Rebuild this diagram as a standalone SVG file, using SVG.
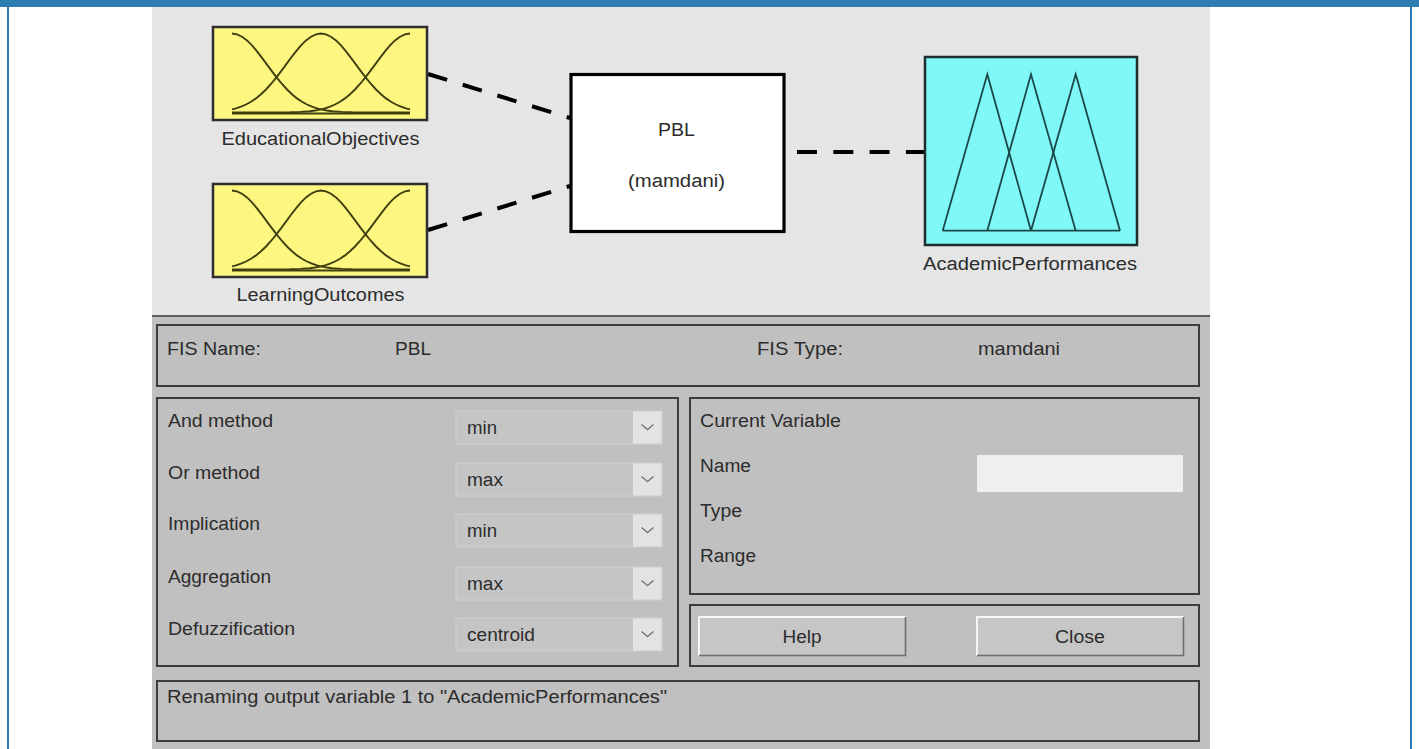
<svg xmlns="http://www.w3.org/2000/svg" xmlns:xlink="http://www.w3.org/1999/xlink" width="1419" height="749" viewBox="0 0 1419 749">
<style>
.t{font-family:"Liberation Sans",Arial,sans-serif;font-size:18px;fill:#2c2c2c}
.m{text-anchor:middle}
.panel{fill:none;stroke:#3c3c3c;stroke-width:2}
.conn{fill:none;stroke:#000;stroke-width:4;stroke-dasharray:20 16.3}
.mf{fill:none;stroke:#3f3f10;stroke-width:1.9}
.tri{fill:none;stroke:#1c4848;stroke-width:1.8}
.ybox{fill:#fdf680;stroke:#2e2e2e;stroke-width:2.5}
.btn{fill:#c6c6c6}
.hl{fill:none;stroke:#f6f6f6;stroke-width:2}
.sh{fill:none;stroke:#6e6e6e;stroke-width:1.6}
</style>
<defs>
<g id="gauss">
<polyline class="mf" points="0,0 5,0.8 10,3.2 15,6.9 20,11.9 25,17.8 30,24.3 35,31.1 40,37.9 45,44.4 50,50.5 55,56 60,60.8 65,64.9 70,68.3 75,71 80,73.2 85,74.9 90,76.1 95,77 100,77.7 110,78.4 120,78.8 140,79 178,79"/>
<polyline class="mf" points="178,0 173,0.8 168,3.2 163,6.9 158,11.9 153,17.8 148,24.3 143,31.1 138,37.9 133,44.4 128,50.5 123,56 118,60.8 113,64.9 108,68.3 103,71 98,73.2 93,74.9 88,76.1 83,77 78,77.7 68,78.4 58,78.8 38,79 0,79"/>
<polyline class="mf" points="0,75.9 4,74.9 9,73.2 14,71 19,68.3 24,64.9 29,60.8 34,56 39,50.5 44,44.4 49,37.9 54,31.1 59,24.3 64,17.8 69,11.9 74,6.9 79,3.2 84,0.8 89,0 94,0.8 99,3.2 104,6.9 109,11.9 114,17.8 119,24.3 124,31.1 129,37.9 134,44.4 139,50.5 144,56 149,60.8 154,64.9 159,68.3 164,71 169,73.2 174,74.9 178,75.9"/>
<line class="mf" x1="0" y1="80" x2="178" y2="80"/>
</g>
<g id="dd">
<rect x="0" y="0" width="206" height="33" fill="#c5c5c5" stroke="#d0d0d0" stroke-width="1"/>
<rect x="177" y="0.5" width="28.5" height="32" fill="#e3e3e3"/>
<polyline points="185.5,13.5 191.5,18.5 197.5,13.5" fill="none" stroke="#767676" stroke-width="1.4"/>
</g>
</defs>

<!-- frame -->
<rect x="0" y="0" width="1419" height="749" fill="#ffffff"/>
<rect x="0" y="0" width="1419" height="7" fill="#2e7db1"/>
<rect x="7" y="7" width="2" height="742" fill="#2e7db1"/>
<rect x="1410" y="7" width="2" height="742" fill="#2e7db1"/>

<!-- window -->
<rect x="152" y="7" width="1058" height="309" fill="#e5e5e5"/>
<rect x="152" y="316" width="1058" height="433" fill="#c0c0c0"/>
<line x1="152" y1="316" x2="1210" y2="316" stroke="#5e5e5e" stroke-width="2"/>

<g id="connectors">
<line class="conn" x1="428" y1="74" x2="570" y2="118"/>
<line class="conn" x1="428" y1="230" x2="570" y2="186"/>
<line class="conn" x1="797" y1="152" x2="926" y2="152"/>
</g>

<g id="node-educational">
<rect class="ybox" x="213" y="27" width="214" height="93"/>
<use xlink:href="#gauss" transform="translate(232,33.5)"/>
<text class="t m" x="320.5" y="145" textLength="198" lengthAdjust="spacingAndGlyphs">EducationalObjectives</text>
</g>

<g id="node-learning">
<rect class="ybox" x="213" y="184" width="214" height="93"/>
<use xlink:href="#gauss" transform="translate(232,190.5)"/>
<text class="t m" x="320.5" y="301" textLength="168" lengthAdjust="spacingAndGlyphs">LearningOutcomes</text>
</g>

<g id="node-pbl">
<rect x="571" y="74.5" width="213" height="157" fill="#ffffff" stroke="#000" stroke-width="3.2"/>
<text class="t m" x="676.5" y="136" textLength="37" lengthAdjust="spacingAndGlyphs">PBL</text>
<text class="t m" x="676.5" y="187" textLength="97" lengthAdjust="spacingAndGlyphs">(mamdani)</text>
</g>

<g id="node-academic">
<rect x="925" y="57" width="212" height="188" fill="#80f8f8" stroke="#1e2e2e" stroke-width="2.5"/>
<polyline class="tri" points="942.7,230.7 987.3,74.3 1031,230.7"/>
<polyline class="tri" points="987.3,230.7 1031,74.3 1075.7,230.7"/>
<polyline class="tri" points="1031,230.7 1075.7,74.3 1120,230.7"/>
<line class="tri" x1="942.7" y1="230.7" x2="1120" y2="230.7"/>
<text class="t m" x="1030" y="270" textLength="214" lengthAdjust="spacingAndGlyphs">AcademicPerformances</text>
</g>

<g id="fis-panel">
<rect class="panel" x="157" y="325" width="1042" height="61"/>
<text class="t" x="167" y="355" textLength="94" lengthAdjust="spacingAndGlyphs">FIS Name:</text>
<text class="t" x="395" y="355" textLength="36" lengthAdjust="spacingAndGlyphs">PBL</text>
<text class="t" x="757" y="355" textLength="86" lengthAdjust="spacingAndGlyphs">FIS Type:</text>
<text class="t" x="978" y="355" textLength="82" lengthAdjust="spacingAndGlyphs">mamdani</text>
</g>

<g id="methods-panel">
<rect class="panel" x="157" y="398" width="521" height="268"/>
<text class="t" x="168" y="427" textLength="105" lengthAdjust="spacingAndGlyphs">And method</text>
<text class="t" x="168" y="479" textLength="92" lengthAdjust="spacingAndGlyphs">Or method</text>
<text class="t" x="168" y="530" textLength="92" lengthAdjust="spacingAndGlyphs">Implication</text>
<text class="t" x="168" y="583" textLength="103" lengthAdjust="spacingAndGlyphs">Aggregation</text>
<text class="t" x="168" y="635" textLength="127" lengthAdjust="spacingAndGlyphs">Defuzzification</text>
<use xlink:href="#dd" transform="translate(456,411)"/>
<use xlink:href="#dd" transform="translate(456,463)"/>
<use xlink:href="#dd" transform="translate(456,514)"/>
<use xlink:href="#dd" transform="translate(456,567)"/>
<use xlink:href="#dd" transform="translate(456,618)"/>
<text class="t" x="467" y="434" textLength="30" lengthAdjust="spacingAndGlyphs">min</text>
<text class="t" x="467" y="486" textLength="36" lengthAdjust="spacingAndGlyphs">max</text>
<text class="t" x="467" y="537" textLength="30" lengthAdjust="spacingAndGlyphs">min</text>
<text class="t" x="467" y="590" textLength="36" lengthAdjust="spacingAndGlyphs">max</text>
<text class="t" x="467" y="641" textLength="68" lengthAdjust="spacingAndGlyphs">centroid</text>
</g>

<g id="variable-panel">
<rect class="panel" x="690" y="398" width="509" height="196"/>
<text class="t" x="700" y="427" textLength="141" lengthAdjust="spacingAndGlyphs">Current Variable</text>
<text class="t" x="700" y="472" textLength="51" lengthAdjust="spacingAndGlyphs">Name</text>
<text class="t" x="700" y="517" textLength="42" lengthAdjust="spacingAndGlyphs">Type</text>
<text class="t" x="700" y="562" textLength="56" lengthAdjust="spacingAndGlyphs">Range</text>
<rect x="977" y="455" width="206" height="37" fill="#efefef"/>
</g>

<g id="buttons-panel">
<rect class="panel" x="690" y="605" width="509" height="61"/>
<rect class="btn" x="698" y="616" width="208" height="40"/>
<polyline class="hl" points="699,656 699,617 906,617"/>
<polyline class="sh" points="699,655.5 905.5,655.5 905.5,617"/>
<text class="t m" x="802" y="643" textLength="39" lengthAdjust="spacingAndGlyphs">Help</text>
<rect class="btn" x="976" y="616" width="208" height="40"/>
<polyline class="hl" points="977,656 977,617 1184,617"/>
<polyline class="sh" points="977,655.5 1183.5,655.5 1183.5,617"/>
<text class="t m" x="1080" y="643" textLength="50" lengthAdjust="spacingAndGlyphs">Close</text>
</g>

<g id="status-panel">
<rect class="panel" x="157" y="681" width="1042" height="60"/>
<text class="t" x="167" y="703" textLength="500" lengthAdjust="spacingAndGlyphs">Renaming output variable 1 to "AcademicPerformances"</text>
</g>
</svg>
